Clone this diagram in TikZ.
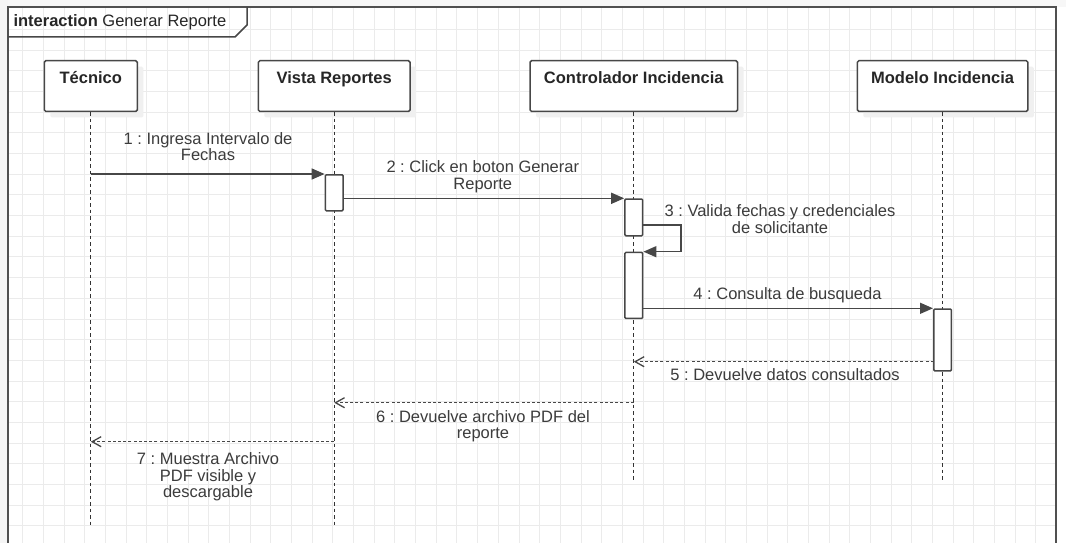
\documentclass[tikz,border=0pt]{standalone}
\usepackage{fontspec}
\setmainfont{Liberation Sans}
\usetikzlibrary{arrows.meta,shadows}
\definecolor{framegray}{HTML}{505050}
\definecolor{linegray}{HTML}{474747}
\definecolor{textgray}{HTML}{3C3C3C}
\definecolor{gridgray}{HTML}{EBEBEB}
\newcommand{\umlfont}{\fontsize{16.5}{16.7}\selectfont\frenchspacing}

\begin{document}
\begin{tikzpicture}[x=1pt, y=-1pt,
    lifebox/.style={draw=linegray, line width=1.5pt, fill=white, rounded corners=1.5pt, anchor=north,
        inner xsep=0pt, inner ysep=0pt, text height=22.6pt, text depth=28.1pt,
        font=\umlfont\bfseries, text=black!85,
        drop shadow={shadow xshift=6pt, shadow yshift=-6pt, fill=black!6, opacity=1}},
    actbox/.style={draw=linegray, line width=1.5pt, fill=white, rounded corners=1pt, anchor=north,
        minimum width=17.7pt, inner sep=0pt},
    lifeline/.style={black!80, line width=1.1pt, dash pattern=on 3.5pt off 3pt},
    sync/.style={linegray, line width=1.5pt, -{Triangle[length=13pt, width=11pt]}},
    reply/.style={linegray, line width=1.3pt, dash pattern=on 3pt off 2.2pt,
        -{Straight Barb[length=9pt, width=10pt]}},
    msg/.style={font=\umlfont, text=textgray, align=center, inner sep=0pt},
    gridline/.style={gridgray, line width=0.9pt}]
    \useasboundingbox (0,0) rectangle (1066,543);
    % Background
    \fill[white] (0,0) rectangle (1066,543);
    \fill[black!4] (0,0) rectangle (8,543);
    \fill[black!3] (8,0) rectangle (1066,7);
    % Grid
    \foreach \k in {1,...,50}
        \draw[gridline] ({2.2+20.67*\k},7) -- ({2.2+20.67*\k},543);
    \foreach \k in {1,...,25}
        \draw[gridline] (8,{8.9+20.67*\k}) -- (1056,{8.9+20.67*\k});
    % Frame and tab
    \draw[framegray, line width=2.5pt] (8,550) -- (8,7) -- (1056,7) -- (1056,550);
    \draw[linegray, line width=1.5pt] (8,37) -- (235,37) -- (247,25) -- (247,7);
    \node[anchor=west, font=\umlfont, text=black!85, inner sep=0pt] (title) at (13.3,22.7)
        {\textbf{interaction} Generar Reporte};
    % Lifeline heads
    \node[lifebox, minimum width=93pt] (tec) at (90.8,60) {Técnico};
    \node[lifebox, minimum width=151.7pt] (vis) at (334.2,60) {Vista Reportes};
    \node[lifebox, minimum width=207.5pt] (con) at (633.8,60) {Controlador Incidencia};
    \node[lifebox, minimum width=170.4pt] (mod) at (942.6,60) {Modelo Incidencia};
    % Lifelines
    \coordinate (tecend) at (90.8,525);
    \coordinate (visend) at (334.2,525);
    \coordinate (conend) at (633.8,480);
    \coordinate (modend) at (942.6,480);
    \draw[lifeline] (tec) -- (tecend);
    \draw[lifeline] (vis) -- (visend);
    \draw[lifeline] (con) -- (conend);
    \draw[lifeline] (mod) -- (modend);
    % Activations
    \node[actbox, minimum height=36pt] (avis) at (334.2,174) {};
    \node[actbox, minimum height=36.7pt] (acon1) at (633.8,198.3) {};
    \node[actbox, minimum height=66pt] (acon2) at (633.8,251.7) {};
    \node[actbox, minimum height=61.7pt] (amod) at (942.6,308.3) {};
    % Messages
    \draw[sync] (tec.south |- avis.north) -- (avis.north west);
    \draw[sync] (avis.east |- acon1.north) -- (acon1.north west);
    \coordinate (selfturn) at (681.2,225);
    \draw[sync] (acon1.east |- selfturn) -- (selfturn) |- (acon2.north east);
    \draw[sync] (acon2.east |- amod.north) -- (amod.north west);
    \coordinate (ret5) at (933.75,361.7);
    \draw[reply] (ret5) -- (ret5 -| con.south);
    \coordinate (ret6) at (633.8,402.7);
    \draw[reply] (ret6) -- (ret6 -| vis.south);
    \coordinate (ret7) at (334.2,441.7);
    \draw[reply] (ret7) -- (ret7 -| tec.south);
    % Labels
    \node[msg] (m1) at (208,146.5) {1 : Ingresa Intervalo de\\Fechas};
    \node[msg] (m2) at (482.8,176.7) {2 : Click en boton Generar\\Reporte};
    \node[msg] (m3) at (780,219.3) {3 : Valida fechas y credenciales\\de solicitante};
    \node[msg] (m4) at (787.5,295) {4 : Consulta de busqueda};
    \node[msg] (m5) at (785,375) {5 : Devuelve datos consultados};
    \node[msg] (m6) at (483,426.3) {6 : Devuelve archivo PDF del\\reporte};
    \node[msg] (m7) at (208,477) {7 : Muestra Archivo\\PDF visible y\\descargable};
\end{tikzpicture}
\end{document}
